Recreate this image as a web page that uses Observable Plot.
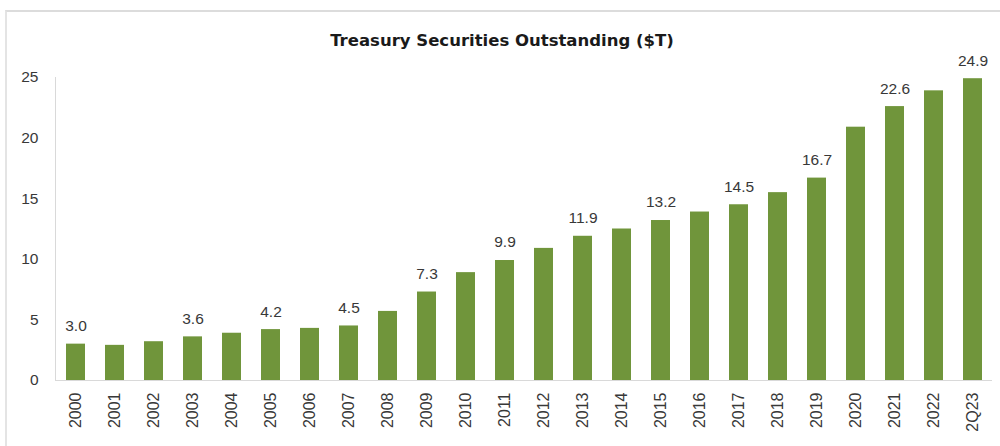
<!DOCTYPE html>
<html>
<head>
<meta charset="utf-8">
<script src="https://cdn.jsdelivr.net/npm/d3@7"></script>
<script src="https://cdn.jsdelivr.net/npm/@observablehq/plot@0.6"></script>
<style>
  html, body { margin: 0; padding: 0; background: #fff; overflow: hidden; width: 1000px; height: 446px; }
  #wrap { position: relative; width: 1000px; height: 446px; overflow: hidden; font-family: "Liberation Sans", Arial, sans-serif; }
  #frame { position: absolute; left: 5px; top: 10px; width: 1000px; height: 440px; border-top: 2px solid #dcdcdc; border-left: 2px solid #e4e4e4; box-sizing: border-box; }
  #title { position: absolute; left: 0; width: 1004px; top: 31px; text-align: center; font-weight: bold; font-size: 16.5px; color: #1a1a1a; font-family: "DejaVu Sans", sans-serif; }
  #chart { position: absolute; left: 0; top: 0; }
</style>
</head>
<body>
<div id="wrap">
  <div id="frame"></div>
  <div id="chart"></div>
  <div id="title">Treasury Securities Outstanding ($T)</div>
</div>
<script>
const years = ["2000","2001","2002","2003","2004","2005","2006","2007","2008","2009","2010","2011","2012","2013","2014","2015","2016","2017","2018","2019","2020","2021","2022","2Q23"];
const values = [3.0, 2.9, 3.2, 3.6, 3.9, 4.2, 4.3, 4.5, 5.7, 7.3, 8.9, 9.9, 10.9, 11.9, 12.5, 13.2, 13.9, 14.5, 15.5, 16.7, 20.9, 22.6, 23.9, 24.9];
const labeledYears = ["2000","2003","2005","2007","2009","2011","2013","2015","2017","2019","2021","2Q23"];
const yTicks = [0, 5, 10, 15, 20, 25];

const data = years.map((year, i) => ({year, value: values[i]}));
const labeled = data.filter(d => labeledYears.includes(d.year));

const chart = Plot.plot({
  width: 1000,
  height: 446,
  marginLeft: 55,
  marginRight: 8,
  marginTop: 77,
  marginBottom: 66,
  style: {fontFamily: "'Liberation Sans', Arial, sans-serif", background: "transparent", color: "#404040"},
  x: {domain: years, paddingInner: 0.52, paddingOuter: 0.26, label: null},
  y: {domain: [0, 25], label: null},
  marks: [
    Plot.frame({anchor: "left", stroke: "#d9d9d9"}),
    Plot.barY(data, {x: "year", y: "value", fill: "#70953b"}),
    Plot.ruleY([0], {stroke: "#d9d9d9"}),
    Plot.text(labeled, {x: "year", y: "value", text: d => d.value.toFixed(1), dy: -18, fontSize: 15.5, fill: "#383838"}),
    Plot.axisY({ticks: yTicks, tickSize: 0, tickPadding: 17, fontSize: 15.5, label: null, color: "#383838"}),
    Plot.axisX({tickSize: 0, tickRotate: -90, tickPadding: 12, fontSize: 16, label: null, color: "#383838"})
  ]
});
document.getElementById("chart").appendChild(chart);
</script>
</body>
</html>
